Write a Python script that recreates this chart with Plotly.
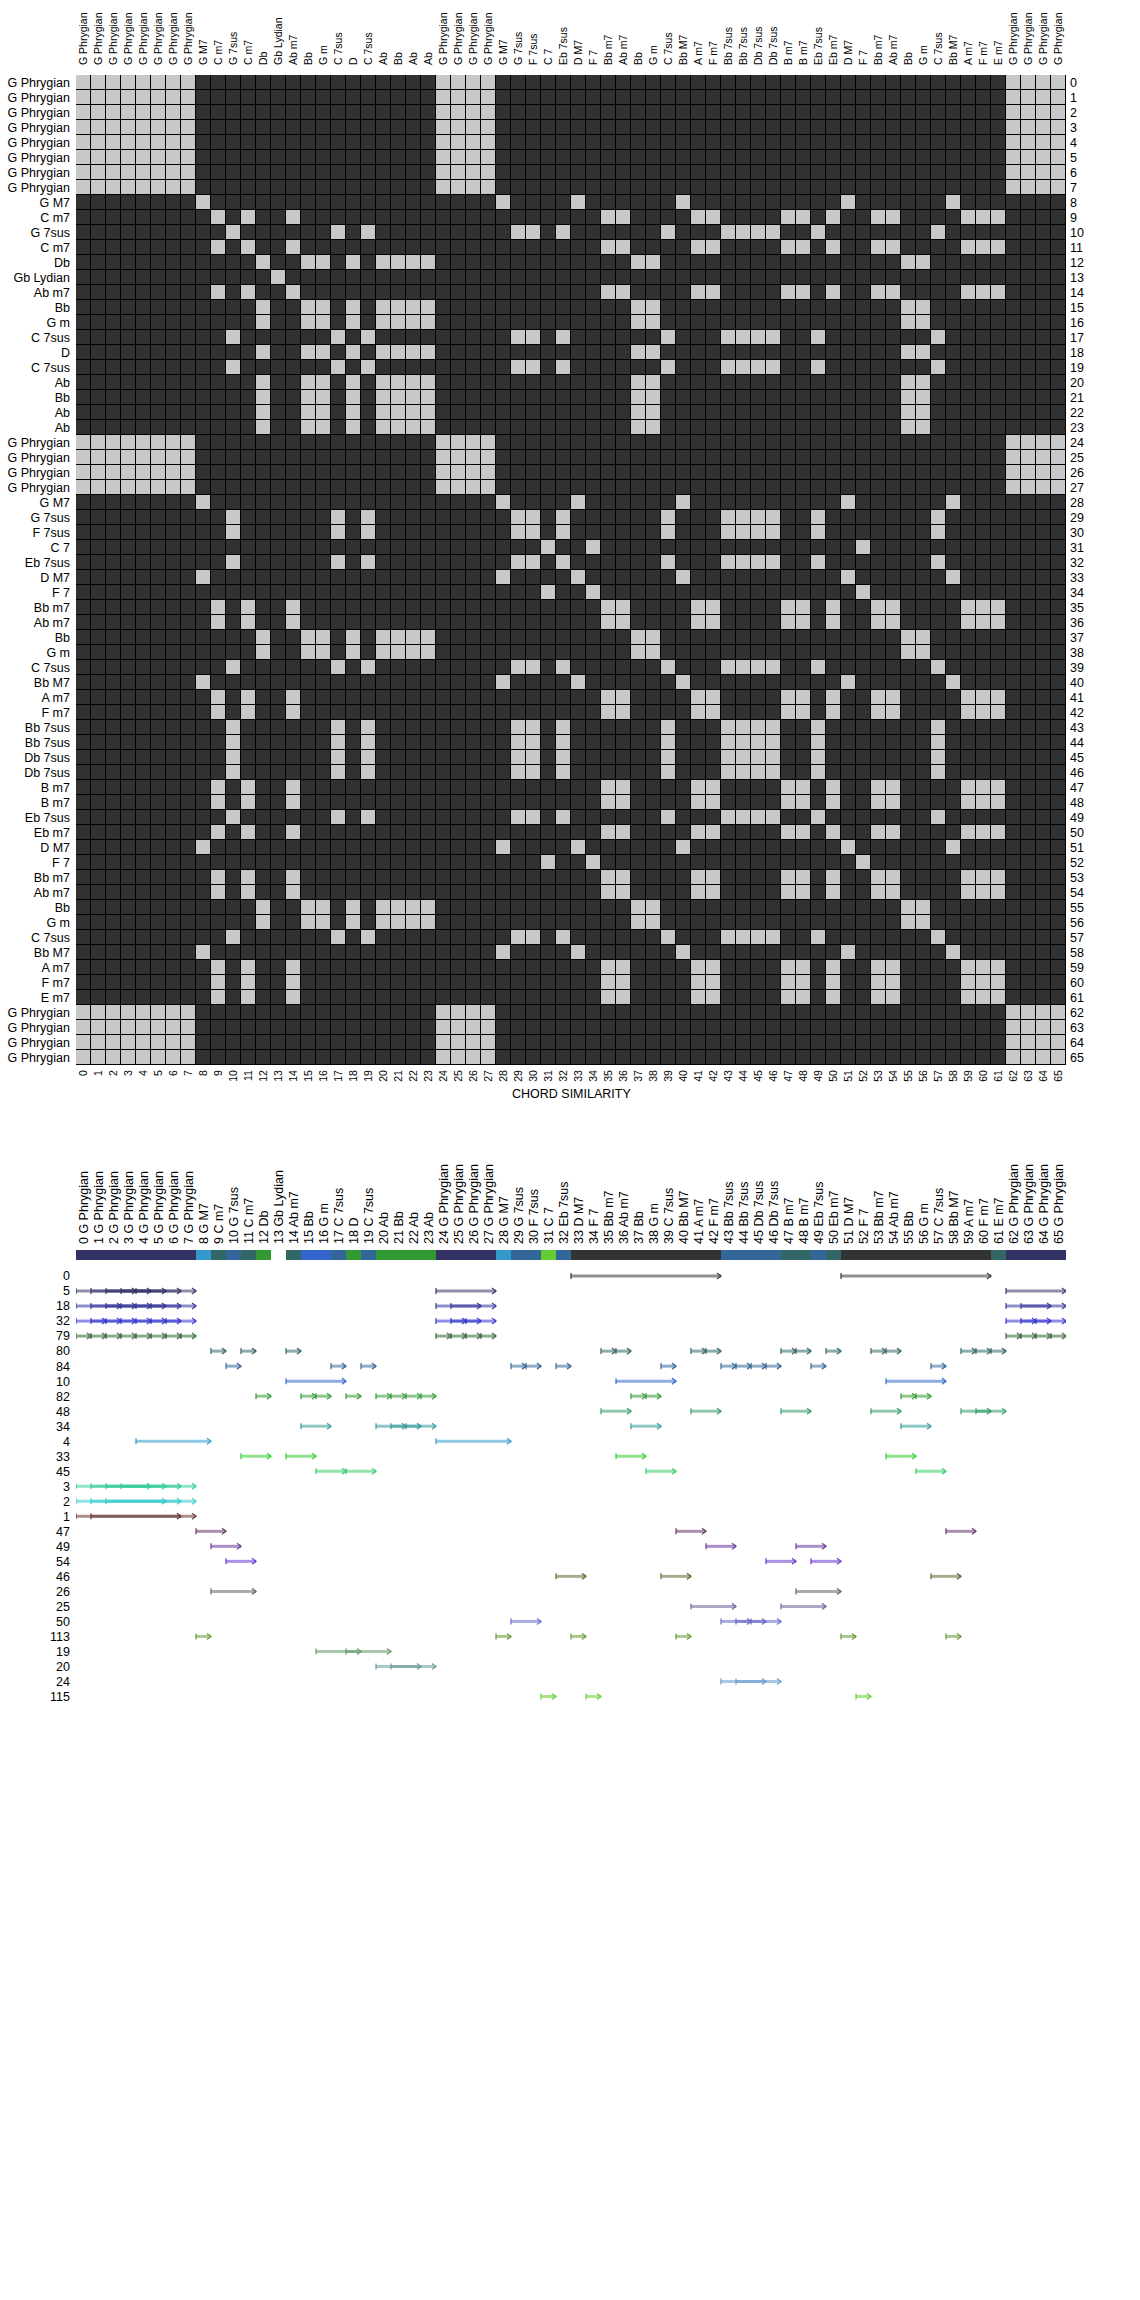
import plotly.graph_objects as go

# ---------------- data ----------------
CHORD_NAMES = [
    "G Phrygian", "G Phrygian", "G Phrygian", "G Phrygian", "G Phrygian", "G Phrygian", "G Phrygian", "G Phrygian",
    "G M7", "C m7", "G 7sus", "C m7", "Db", "Gb Lydian", "Ab m7", "Bb", "G m", "C 7sus", "D", "C 7sus",
    "Ab", "Bb", "Ab", "Ab", "G Phrygian", "G Phrygian", "G Phrygian", "G Phrygian", "G M7", "G 7sus",
    "F 7sus", "C 7", "Eb 7sus", "D M7", "F 7", "Bb m7", "Ab m7", "Bb", "G m", "C 7sus",
    "Bb M7", "A m7", "F m7", "Bb 7sus", "Bb 7sus", "Db 7sus", "Db 7sus", "B m7", "B m7", "Eb 7sus",
    "Eb m7", "D M7", "F 7", "Bb m7", "Ab m7", "Bb", "G m", "C 7sus", "Bb M7", "A m7",
    "F m7", "E m7", "G Phrygian", "G Phrygian", "G Phrygian", "G Phrygian",
]

# similarity matrix, one string per row (1 = similar), groups of 10 columns
SIMILARITY_ROWS = [
    "1111111100 0000000000 0000111100 0000000000 0000000000 0000000000 001111",  # 0
    "1111111100 0000000000 0000111100 0000000000 0000000000 0000000000 001111",  # 1
    "1111111100 0000000000 0000111100 0000000000 0000000000 0000000000 001111",  # 2
    "1111111100 0000000000 0000111100 0000000000 0000000000 0000000000 001111",  # 3
    "1111111100 0000000000 0000111100 0000000000 0000000000 0000000000 001111",  # 4
    "1111111100 0000000000 0000111100 0000000000 0000000000 0000000000 001111",  # 5
    "1111111100 0000000000 0000111100 0000000000 0000000000 0000000000 001111",  # 6
    "1111111100 0000000000 0000111100 0000000000 0000000000 0000000000 001111",  # 7
    "0000000010 0000000000 0000000010 0001000000 1000000000 0100000010 000000",  # 8
    "0000000001 0100100000 0000000000 0000011000 0110000110 1001100001 110000",  # 9
    "0000000000 1000000101 0000000001 1010000001 0001111001 0000000100 000000",  # 10
    "0000000001 0100100000 0000000000 0000011000 0110000110 1001100001 110000",  # 11
    "0000000000 0010011010 1111000000 0000000110 0000000000 0000011000 000000",  # 12
    "0000000000 0001000000 0000000000 0000000000 0000000000 0000000000 000000",  # 13
    "0000000001 0100100000 0000000000 0000011000 0110000110 1001100001 110000",  # 14
    "0000000000 0010011010 1111000000 0000000110 0000000000 0000011000 000000",  # 15
    "0000000000 0010011010 1111000000 0000000110 0000000000 0000011000 000000",  # 16
    "0000000000 1000000101 0000000001 1010000001 0001111001 0000000100 000000",  # 17
    "0000000000 0010011010 1111000000 0000000110 0000000000 0000011000 000000",  # 18
    "0000000000 1000000101 0000000001 1010000001 0001111001 0000000100 000000",  # 19
    "0000000000 0010011010 1111000000 0000000110 0000000000 0000011000 000000",  # 20
    "0000000000 0010011010 1111000000 0000000110 0000000000 0000011000 000000",  # 21
    "0000000000 0010011010 1111000000 0000000110 0000000000 0000011000 000000",  # 22
    "0000000000 0010011010 1111000000 0000000110 0000000000 0000011000 000000",  # 23
    "1111111100 0000000000 0000111100 0000000000 0000000000 0000000000 001111",  # 24
    "1111111100 0000000000 0000111100 0000000000 0000000000 0000000000 001111",  # 25
    "1111111100 0000000000 0000111100 0000000000 0000000000 0000000000 001111",  # 26
    "1111111100 0000000000 0000111100 0000000000 0000000000 0000000000 001111",  # 27
    "0000000010 0000000000 0000000010 0001000000 1000000000 0100000010 000000",  # 28
    "0000000000 1000000101 0000000001 1010000001 0001111001 0000000100 000000",  # 29
    "0000000000 1000000101 0000000001 1010000001 0001111001 0000000100 000000",  # 30
    "0000000000 0000000000 0000000000 0100100000 0000000000 0010000000 000000",  # 31
    "0000000000 1000000101 0000000001 1010000001 0001111001 0000000100 000000",  # 32
    "0000000010 0000000000 0000000010 0001000000 1000000000 0100000010 000000",  # 33
    "0000000000 0000000000 0000000000 0100100000 0000000000 0010000000 000000",  # 34
    "0000000001 0100100000 0000000000 0000011000 0110000110 1001100001 110000",  # 35
    "0000000001 0100100000 0000000000 0000011000 0110000110 1001100001 110000",  # 36
    "0000000000 0010011010 1111000000 0000000110 0000000000 0000011000 000000",  # 37
    "0000000000 0010011010 1111000000 0000000110 0000000000 0000011000 000000",  # 38
    "0000000000 1000000101 0000000001 1010000001 0001111001 0000000100 000000",  # 39
    "0000000010 0000000000 0000000010 0001000000 1000000000 0100000010 000000",  # 40
    "0000000001 0100100000 0000000000 0000011000 0110000110 1001100001 110000",  # 41
    "0000000001 0100100000 0000000000 0000011000 0110000110 1001100001 110000",  # 42
    "0000000000 1000000101 0000000001 1010000001 0001111001 0000000100 000000",  # 43
    "0000000000 1000000101 0000000001 1010000001 0001111001 0000000100 000000",  # 44
    "0000000000 1000000101 0000000001 1010000001 0001111001 0000000100 000000",  # 45
    "0000000000 1000000101 0000000001 1010000001 0001111001 0000000100 000000",  # 46
    "0000000001 0100100000 0000000000 0000011000 0110000110 1001100001 110000",  # 47
    "0000000001 0100100000 0000000000 0000011000 0110000110 1001100001 110000",  # 48
    "0000000000 1000000101 0000000001 1010000001 0001111001 0000000100 000000",  # 49
    "0000000001 0100100000 0000000000 0000011000 0110000110 1001100001 110000",  # 50
    "0000000010 0000000000 0000000010 0001000000 1000000000 0100000010 000000",  # 51
    "0000000000 0000000000 0000000000 0100100000 0000000000 0010000000 000000",  # 52
    "0000000001 0100100000 0000000000 0000011000 0110000110 1001100001 110000",  # 53
    "0000000001 0100100000 0000000000 0000011000 0110000110 1001100001 110000",  # 54
    "0000000000 0010011010 1111000000 0000000110 0000000000 0000011000 000000",  # 55
    "0000000000 0010011010 1111000000 0000000110 0000000000 0000011000 000000",  # 56
    "0000000000 1000000101 0000000001 1010000001 0001111001 0000000100 000000",  # 57
    "0000000010 0000000000 0000000010 0001000000 1000000000 0100000010 000000",  # 58
    "0000000001 0100100000 0000000000 0000011000 0110000110 1001100001 110000",  # 59
    "0000000001 0100100000 0000000000 0000011000 0110000110 1001100001 110000",  # 60
    "0000000001 0100100000 0000000000 0000011000 0110000110 1001100001 110000",  # 61
    "1111111100 0000000000 0000111100 0000000000 0000000000 0000000000 001111",  # 62
    "1111111100 0000000000 0000111100 0000000000 0000000000 0000000000 001111",  # 63
    "1111111100 0000000000 0000111100 0000000000 0000000000 0000000000 001111",  # 64
    "1111111100 0000000000 0000111100 0000000000 0000000000 0000000000 001111",  # 65
]

# pattern rows of the lower chart (top to bottom)
PATTERN_IDS = [0, 5, 18, 32, 79, 80, 84, 10, 82, 48, 34, 4, 33, 45, 3, 2, 1,
               47, 49, 54, 46, 26, 25, 50, 113, 19, 20, 24, 115]
PATTERN_LENGTHS = [10, 4, 3, 2, 1, 1, 1, 4, 1, 2, 2, 5, 2, 2, 5, 6, 7,
                   2, 2, 2, 2, 3, 3, 2, 1, 3, 3, 3, 1]
PATTERN_STARTS = [
    [33, 51],
    [0, 1, 2, 3, 4, 24, 62],
    [0, 1, 2, 3, 4, 5, 24, 25, 62, 63],
    [0, 1, 2, 3, 4, 5, 6, 24, 25, 26, 62, 63, 64],
    [0, 1, 2, 3, 4, 5, 6, 7, 24, 25, 26, 27, 62, 63, 64, 65],
    [9, 11, 14, 35, 36, 41, 42, 47, 48, 50, 53, 54, 59, 60, 61],
    [10, 17, 19, 29, 30, 32, 39, 43, 44, 45, 46, 49, 57],
    [14, 36, 54],
    [12, 15, 16, 18, 20, 21, 22, 23, 37, 38, 55, 56],
    [35, 41, 47, 53, 59, 60],
    [15, 20, 21, 22, 37, 55],
    [4, 24],
    [11, 14, 36, 54],
    [16, 18, 38, 56],
    [0, 1, 2, 3],
    [0, 1, 2],
    [0, 1],
    [8, 40, 58],
    [9, 42, 48],
    [10, 46, 49],
    [32, 39, 57],
    [9, 48],
    [41, 47],
    [29, 43, 44, 45],
    [8, 28, 33, 40, 51, 58],
    [16, 18],
    [20, 21],
    [43, 44],
    [31, 34, 52],
]
# pattern each chord is assigned to in the colour strip (None = unassigned)
CHORD_PATTERN = [
    5, 5, 5, 5, 5, 5, 5, 5, 4, 80,
    84, 80, 82, None, 80, 10, 10, 84, 82, 84,
    82, 82, 82, 82, 5, 5, 5, 5, 4, 84,
    84, 115, 84, 0, 0, 0, 0, 0, 0, 0,
    0, 0, 0, 84, 84, 84, 84, 80, 80, 84,
    80, 0, 0, 0, 0, 0, 0, 0, 0, 0,
    0, 80, 5, 5, 5, 5,
]

# ---------------- styles ----------------
PATTERN_COLORS = ["#333333", "#333366", "#333399", "#3333cc", "#336633", "#336666", "#336699",
                  "#3366cc", "#339933", "#339966", "#339999", "#3399cc", "#33cc33", "#33cc66",
                  "#33cc99", "#33cccc", "#663333", "#663366", "#663399", "#6633cc", "#666633",
                  "#666666", "#666699", "#6666cc", "#669933", "#669966", "#669999", "#6699cc",
                  "#66cc33"]
FONT = "Liberation Sans, Arial, sans-serif"
W, H = 1140, 2300


def rgba(hx, a):
    hx = hx.lstrip("#")
    r, g, b = int(hx[0:2], 16), int(hx[2:4], 16), int(hx[4:6], 16)
    return f"rgba({r},{g},{b},{a})"


def px_x(p):
    return p / W


def px_y(p):
    return 1 - p / H


n = len(CHORD_NAMES)
idx = list(range(n))
z = [[int(c) for c in row.replace(" ", "")] for row in SIMILARITY_ROWS]

fig = go.Figure()

# ---- similarity heatmap ----
fig.add_trace(go.Heatmap(
    z=z, x=idx, y=idx, xaxis="x", yaxis="y",
    colorscale=[[0, "#313131"], [1, "#c8c8c8"]], zmin=0, zmax=1,
    showscale=False, xgap=1, ygap=1, hoverinfo="skip",
))
# helper invisible traces for the overlaid number axes
fig.add_trace(go.Scatter(x=[0], y=[0], xaxis="x3", yaxis="y", mode="markers",
                         marker=dict(opacity=0), showlegend=False, hoverinfo="skip"))
fig.add_trace(go.Scatter(x=[0], y=[0], xaxis="x", yaxis="y3", mode="markers",
                         marker=dict(opacity=0), showlegend=False, hoverinfo="skip"))

# ---- pattern strip ----
color_of = {pid: col for pid, col in zip(PATTERN_IDS, PATTERN_COLORS)}
strip_colors = [color_of[p] if p is not None else "rgba(0,0,0,0)" for p in CHORD_PATTERN]
STRIP_TOP, STRIP_H = -1.7333, 0.6667
fig.add_trace(go.Bar(
    x=[i + 0.5 for i in idx], y=[STRIP_H] * n, base=STRIP_TOP, width=1,
    marker=dict(color=strip_colors, line=dict(width=0)),
    xaxis="x2", yaxis="y2", showlegend=False, hoverinfo="skip",
))

shapes = [dict(type="rect", xref="x", yref="y", x0=-0.5, x1=n - 0.5, y0=-0.5, y1=n - 0.5,
               fillcolor="black", line=dict(color="black", width=2), layer="below")]

for k, (pid, L, starts, col) in enumerate(zip(PATTERN_IDS, PATTERN_LENGTHS, PATTERN_STARTS, PATTERN_COLORS)):
    for s in starts:
        e = s + L
        shapes.append(dict(type="line", xref="x2", yref="y2", x0=s, x1=e, y0=k, y1=k,
                           line=dict(color=rgba(col, 0.55), width=3)))
        shapes.append(dict(type="line", xref="x2", yref="y2", x0=s, x1=s, y0=k - 0.2, y1=k + 0.2,
                           line=dict(color=rgba(col, 0.9), width=1.3)))
        shapes.append(dict(type="path", xref="x2", yref="y2",
                           path=f"M {e - 0.27},{k - 0.2} L {e},{k} L {e - 0.27},{k + 0.2}",
                           line=dict(color=rgba(col, 0.9), width=1.3)))

xdom = [px_x(76), px_x(1066)]
tickfont = dict(family=FONT, size=12.5, color="black")
smallfont = dict(family=FONT, size=10.5, color="black")
common = dict(showgrid=False, zeroline=False, showline=False, ticks="", fixedrange=True)

fig.update_layout(
    width=W, height=H, autosize=False,
    margin=dict(l=0, r=0, t=0, b=0),
    paper_bgcolor="white", plot_bgcolor="white",
    hovermode=False, showlegend=False, bargap=0,
    font=dict(family=FONT, color="black"),
    shapes=shapes,
    xaxis=dict(domain=xdom, anchor="y", side="top", range=[-0.5, n - 0.5],
               tickmode="array", tickvals=idx, ticktext=CHORD_NAMES, tickangle=-90,
               tickfont=smallfont, ticklabelstandoff=9, **common),
    yaxis=dict(domain=[px_y(1065), px_y(75)], anchor="x", range=[n - 0.5, -0.5],
               tickmode="array", tickvals=idx, ticktext=CHORD_NAMES,
               tickfont=tickfont, ticklabelstandoff=5, **common),
    xaxis3=dict(overlaying="x", anchor="y", side="bottom", range=[-0.5, n - 0.5],
                tickmode="array", tickvals=idx, ticktext=[str(i) for i in idx], tickangle=-90,
                tickfont=smallfont, ticklabelstandoff=2, **common),
    yaxis3=dict(overlaying="y", anchor="x", side="right", range=[n - 0.5, -0.5],
                tickmode="array", tickvals=idx, ticktext=[str(i) for i in idx],
                tickfont=tickfont, ticklabelstandoff=3, **common),
    xaxis2=dict(domain=xdom, anchor="y2", side="top", range=[0, n],
                tickmode="array", tickvals=[i + 0.5 for i in idx],
                ticktext=[f"{i} {name}" for i, name in enumerate(CHORD_NAMES)], tickangle=-90,
                tickfont=tickfont, ticklabelstandoff=5, **common),
    yaxis2=dict(domain=[px_y(1704), px_y(1250)], anchor="x2", range=[len(PATTERN_IDS) - 0.5, STRIP_TOP],
                tickmode="array", tickvals=list(range(len(PATTERN_IDS))),
                ticktext=[str(p) for p in PATTERN_IDS],
                tickfont=tickfont, ticklabelstandoff=5, **common),
    annotations=[dict(text="CHORD SIMILARITY", xref="paper", yref="paper",
                      x=px_x(571), y=px_y(1094), xanchor="center", yanchor="middle",
                      showarrow=False, font=dict(family=FONT, size=12.5, color="black"))],
)

fig.write_html("out.html")
